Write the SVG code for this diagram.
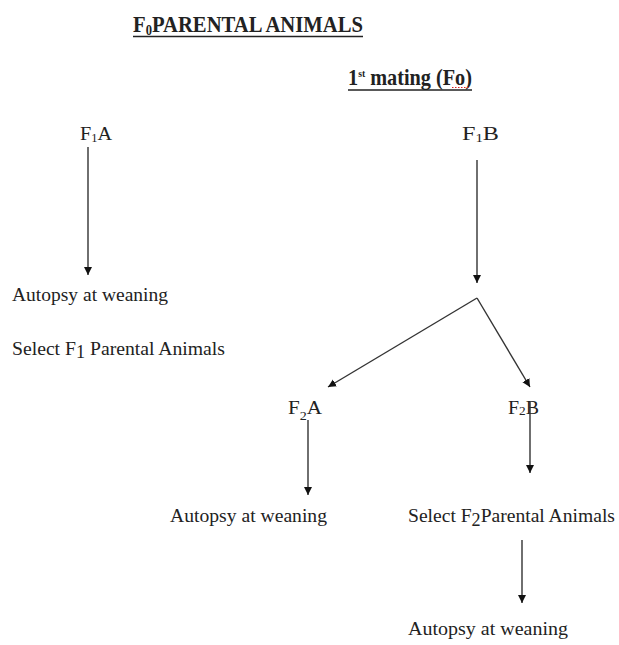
<svg xmlns="http://www.w3.org/2000/svg" width="619" height="645" viewBox="0 0 619 645">
<defs>
<style>
.lbl{font-family:"Liberation Serif","Times New Roman",serif;font-size:19.5px;fill:#222}
.hd{font-family:"Liberation Serif","Times New Roman",serif;font-size:23px;font-weight:bold;fill:#222}
.ul{stroke:#222;stroke-width:1.6}
.cn{stroke:#333;stroke-width:1.4;fill:none;marker-end:url(#ah)}
</style>
<marker id="ah" viewBox="0 0 10 10" refX="10" refY="5" markerWidth="8" markerHeight="9" orient="auto" markerUnits="userSpaceOnUse">
<path d="M0,0 L10,5 L0,10 z" fill="#111"/>
</marker>
</defs>
<rect width="619" height="645" fill="#fff"/>
<g id="title">
<text class="hd" x="133" y="32" textLength="230" lengthAdjust="spacingAndGlyphs">F<tspan font-size="14" dy="3">0</tspan><tspan dy="-3">PARENTAL ANIMALS</tspan></text>
<line class="ul" x1="133" y1="36.5" x2="363" y2="36.5"/>
</g>
<g id="mating">
<text class="hd" x="348" y="85" font-size="19.5" textLength="124" lengthAdjust="spacingAndGlyphs">1<tspan font-size="11" dy="-8">st</tspan><tspan dy="8"> mating (Fo)</tspan></text>
<line class="ul" x1="348" y1="90" x2="472" y2="90"/>
<line x1="452" y1="87.5" x2="469" y2="87.5" stroke="#d22" stroke-width="1.2" stroke-dasharray="1.5,1.5"/>
</g>
<g id="f1a">
<text class="lbl" x="80" y="140" textLength="32" lengthAdjust="spacingAndGlyphs">F<tspan font-size="12" dy="2">1</tspan><tspan dy="-2">A</tspan></text>
</g>
<g id="f1b">
<text class="lbl" x="462" y="140" textLength="37" lengthAdjust="spacingAndGlyphs">F<tspan font-size="12" dy="2">1</tspan><tspan dy="-2">B</tspan></text>
</g>
<g id="autopsy1">
<text class="lbl" x="12" y="301" textLength="156" lengthAdjust="spacingAndGlyphs">Autopsy at weaning</text>
</g>
<g id="select1">
<text class="lbl" x="12" y="355" textLength="213" lengthAdjust="spacingAndGlyphs">Select F<tspan font-size="18" dy="3">1</tspan><tspan dy="-3"> Parental Animals</tspan></text>
</g>
<g id="f2a">
<text class="lbl" x="288" y="414" textLength="34" lengthAdjust="spacingAndGlyphs">F<tspan font-size="13" dy="6">2</tspan><tspan dy="-6">A</tspan></text>
</g>
<g id="f2b">
<text class="lbl" x="508" y="414" textLength="31" lengthAdjust="spacingAndGlyphs">F<tspan font-size="13" dy="1">2</tspan><tspan dy="-1">B</tspan></text>
</g>
<g id="autopsy2">
<text class="lbl" x="170" y="522" textLength="157" lengthAdjust="spacingAndGlyphs">Autopsy at weaning</text>
</g>
<g id="select2">
<text class="lbl" x="408" y="522" textLength="207" lengthAdjust="spacingAndGlyphs">Select F<tspan font-size="18" dy="4">2</tspan><tspan dy="-4">Parental Animals</tspan></text>
</g>
<g id="autopsy3">
<text class="lbl" x="408" y="635" textLength="160" lengthAdjust="spacingAndGlyphs">Autopsy at weaning</text>
</g>
<g id="connectors">
<line class="cn" x1="88" y1="147" x2="88" y2="275"/>
<line class="cn" x1="477" y1="160" x2="477" y2="283"/>
<polyline class="cn" points="477,298 328,387"/>
<polyline class="cn" points="477,298 530,387"/>
<line class="cn" x1="308" y1="420" x2="308" y2="495"/>
<line class="cn" x1="530" y1="402" x2="530" y2="473"/>
<line class="cn" x1="522" y1="540" x2="522" y2="603"/>
</g>
</svg>
